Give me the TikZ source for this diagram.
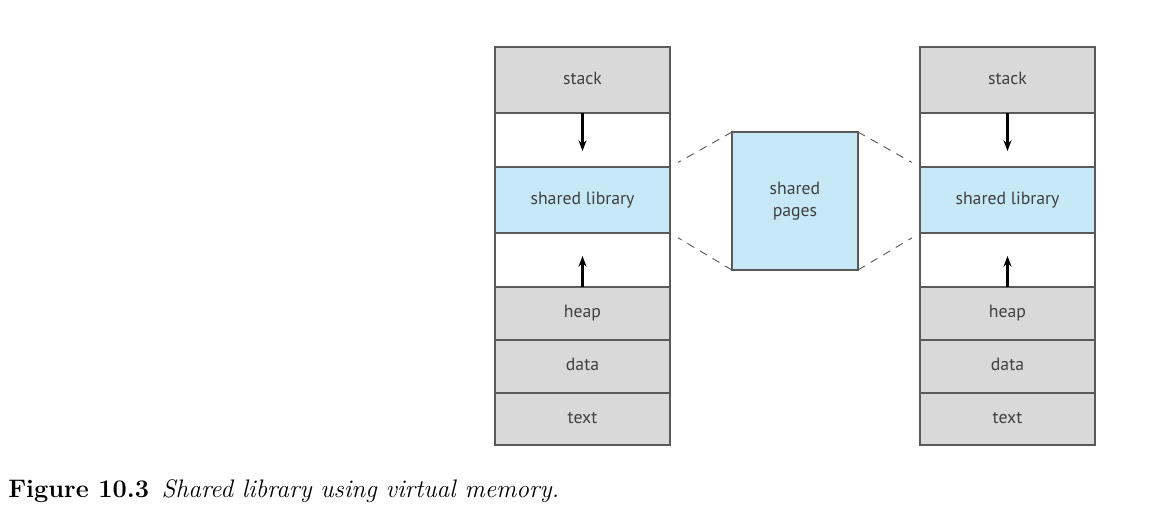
\documentclass[tikz,border=0pt]{standalone}
\usepackage{fontspec}
\usetikzlibrary{positioning,arrows.meta,calc}
\newfontfamily\cellfont{PT Sans}
\definecolor{cellgray}{HTML}{D9D9D9}
\definecolor{cellblue}{HTML}{C6E8F7}
\definecolor{cellline}{HTML}{5A5A5A}
\definecolor{celltext}{HTML}{404040}
\begin{document}
\begin{tikzpicture}[x=0.75pt, y=-0.75pt, node distance=0pt,
    cell/.style = {draw=cellline, line width=1pt, rectangle, minimum width=131.25pt,
      inner sep=0pt, outer sep=0pt, text=celltext,
      font=\cellfont\fontsize{13.3}{16.5}\selectfont, text height=1.5ex, text depth=0pt},
    grey/.style = {cell, fill=cellgray},
    blue/.style = {cell, fill=cellblue},
    free/.style = {cell, fill=white},
    arr/.style = {-{Stealth[length=8pt, width=6pt]}, line width=1.6pt, black},
    link/.style = {dashed, dash pattern=on 6pt off 5pt, line width=0.7pt, cellline}]
  \useasboundingbox (0,0) rectangle (1166,517);

  % two address spaces
  \foreach \s/\xpos in {l/495, r/920} {
    \node[grey, minimum height=49.5pt, anchor=north west] (\s stack) at (\xpos,47) {stack};
    \node[free, minimum height=40.5pt] (\s gap1) [below=of \s stack] {};
    \node[blue, minimum height=49.5pt] (\s lib) [below=of \s gap1] {shared library};
    \node[free, minimum height=40.5pt] (\s gap2) [below=of \s lib] {};
    \node[grey, minimum height=39.75pt] (\s heap) [below=of \s gap2] {heap};
    \node[grey, minimum height=39.75pt] (\s data) [below=of \s heap] {data};
    \node[grey, minimum height=39pt] (\s text) [below=of \s data] {text};

    \path (\s gap1.north) ++(0,38) coordinate (\s down);
    \path (\s gap2.south) ++(0,-31) coordinate (\s up);
    \draw[arr] (\s gap1.north) -- (\s down);
    \draw[arr] (\s gap2.south) -- (\s up);
  }

  % physical memory
  \node[blue, minimum width=94.5pt, minimum height=103.5pt, text height=, text depth=,
    align=center, anchor=north west] (pages) at (732,132) {shared\\pages};

  \draw[link, shorten >=7pt] (pages.north west) -- (llib.north east);
  \draw[link, shorten >=7pt] (pages.south west) -- (llib.south east);
  \draw[link, shorten >=7pt] (pages.north east) -- (rlib.north west);
  \draw[link, shorten >=7pt] (pages.south east) -- (rlib.south west);

  \node[anchor=base west, inner sep=0pt, font=\fontsize{19}{22}\selectfont] (caption) at (8,497)
    {\textbf{Figure 10.3}\hspace{0.5em}\textit{Shared library using virtual memory.}};
\end{tikzpicture}
\end{document}
